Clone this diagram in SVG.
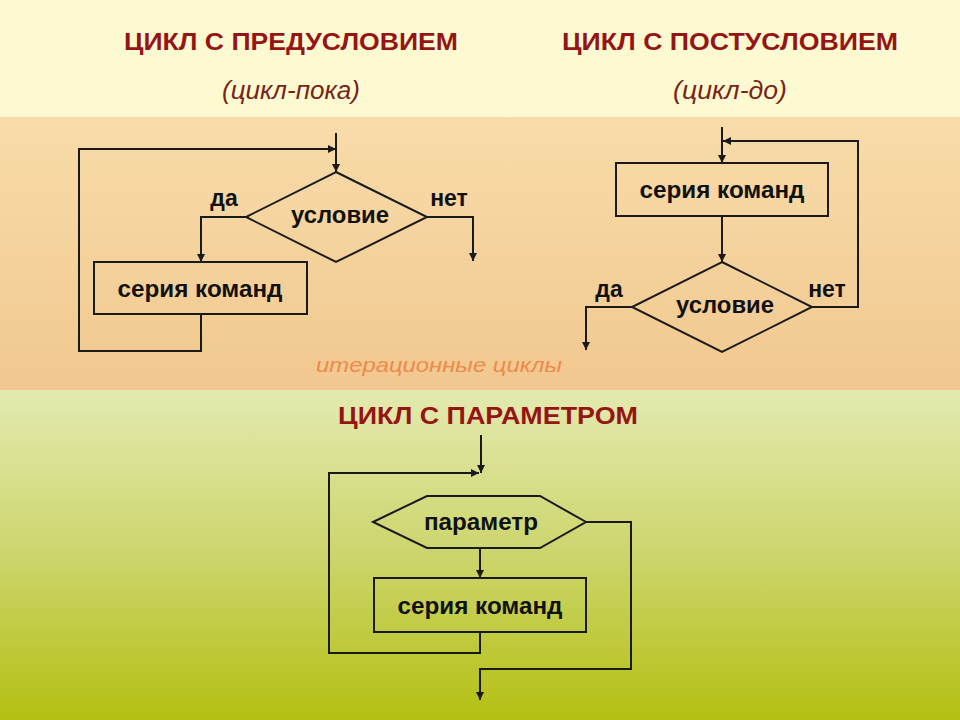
<svg xmlns="http://www.w3.org/2000/svg" width="960" height="720" viewBox="0 0 960 720">
<defs>
<linearGradient id="gMid" x1="0" y1="0" x2="0" y2="1">
<stop offset="0" stop-color="#f8dcaa"/>
<stop offset="1" stop-color="#f1c88f"/>
</linearGradient>
<linearGradient id="gBot" x1="0" y1="0" x2="0" y2="1">
<stop offset="0" stop-color="#e4eab0"/>
<stop offset="0.5" stop-color="#ccd56c"/>
<stop offset="1" stop-color="#b4c012"/>
</linearGradient>
<marker id="ah" viewBox="0 0 10 10" refX="10" refY="5" markerWidth="11" markerHeight="8" orient="auto" markerUnits="userSpaceOnUse">
<path d="M0,0 L10,5 L0,10 z" fill="#1a1a1a"/>
</marker>
</defs>
<style>
.title{font-family:"Liberation Sans",Arial,sans-serif;font-weight:bold;font-size:24px;fill:#951515}
.sub{font-family:"Liberation Sans",Arial,sans-serif;font-style:italic;font-size:25px;fill:#7a2418}
.iter{font-family:"Liberation Sans",Arial,sans-serif;font-style:italic;font-size:21px;fill:#ee8a4a}
.lbl{font-family:"Liberation Sans",Arial,sans-serif;font-weight:bold;font-size:23px;fill:#111}
.shape{fill:none;stroke:#1a1a1a;stroke-width:2}
.con{fill:none;stroke:#1a1a1a;stroke-width:2;marker-end:url(#ah)}
</style>
<rect x="0" y="0" width="960" height="117" fill="#fdfad1"/>
<rect x="0" y="117" width="960" height="273" fill="url(#gMid)"/>
<rect x="0" y="390" width="960" height="330" fill="url(#gBot)"/>

<text class="title" x="291" y="50" text-anchor="middle" textLength="334" lengthAdjust="spacingAndGlyphs">ЦИКЛ С ПРЕДУСЛОВИЕМ</text>
<text class="title" x="730" y="50" text-anchor="middle" textLength="336" lengthAdjust="spacingAndGlyphs">ЦИКЛ С ПОСТУСЛОВИЕМ</text>
<text class="sub" x="291" y="99" text-anchor="middle" textLength="138" lengthAdjust="spacingAndGlyphs">(цикл-пока)</text>
<text class="sub" x="730" y="99" text-anchor="middle" textLength="114" lengthAdjust="spacingAndGlyphs">(цикл-до)</text>
<text class="iter" x="439" y="372" text-anchor="middle" textLength="246" lengthAdjust="spacingAndGlyphs">итерационные циклы</text>
<text class="title" x="488" y="424" text-anchor="middle" textLength="300" lengthAdjust="spacingAndGlyphs">ЦИКЛ С ПАРАМЕТРОМ</text>

<g id="pre-cond">
<polygon class="shape" points="336,172 427,217 336,262 246,217"/>
<text class="lbl" x="340" y="223" text-anchor="middle" textLength="98" lengthAdjust="spacingAndGlyphs">условие</text>
</g>
<g id="pre-body">
<rect class="shape" x="94" y="262" width="213" height="52"/>
<text class="lbl" x="200" y="297" text-anchor="middle" textLength="165" lengthAdjust="spacingAndGlyphs">серия команд</text>
</g>
<g id="post-body">
<rect class="shape" x="616" y="163" width="212" height="53"/>
<text class="lbl" x="722" y="198" text-anchor="middle" textLength="165" lengthAdjust="spacingAndGlyphs">серия команд</text>
</g>
<g id="post-cond">
<polygon class="shape" points="722,262 812,307 722,352 632,307"/>
<text class="lbl" x="725" y="313" text-anchor="middle" textLength="98" lengthAdjust="spacingAndGlyphs">условие</text>
</g>
<g id="param">
<polygon class="shape" points="373,522 427,496 540,496 586,522 540,548 427,548"/>
<text class="lbl" x="481" y="530" text-anchor="middle" textLength="114" lengthAdjust="spacingAndGlyphs">параметр</text>
</g>
<g id="param-body">
<rect class="shape" x="374" y="578" width="212" height="54"/>
<text class="lbl" x="480" y="614" text-anchor="middle" textLength="165" lengthAdjust="spacingAndGlyphs">серия команд</text>
</g>

<g id="connectors">
<path class="con" d="M336,133 L336,172"/>
<path class="con" d="M201,314 L201,351 L79,351 L79,149 L336,149"/>
<path class="con" d="M246,217 L201,217 L201,262"/>
<path class="con" d="M427,217 L473,217 L473,261"/>
<text class="lbl" x="224" y="206" text-anchor="middle">да</text>
<text class="lbl" x="449" y="206" text-anchor="middle">нет</text>

<path class="con" d="M722,127 L722,163"/>
<path class="con" d="M722,216 L722,262"/>
<path class="con" d="M812,307 L858,307 L858,141 L723,141"/>
<path class="con" d="M632,307 L586,307 L586,350"/>
<text class="lbl" x="609" y="297" text-anchor="middle">да</text>
<text class="lbl" x="827" y="297" text-anchor="middle">нет</text>

<path class="con" d="M481,435 L481,473"/>
<path class="con" d="M480,632 L480,653 L329,653 L329,473 L479,473"/>
<path class="con" d="M480,548 L480,578"/>
<path class="con" d="M586,522 L631,522 L631,669 L480,669 L480,700"/>
</g>
</svg>
